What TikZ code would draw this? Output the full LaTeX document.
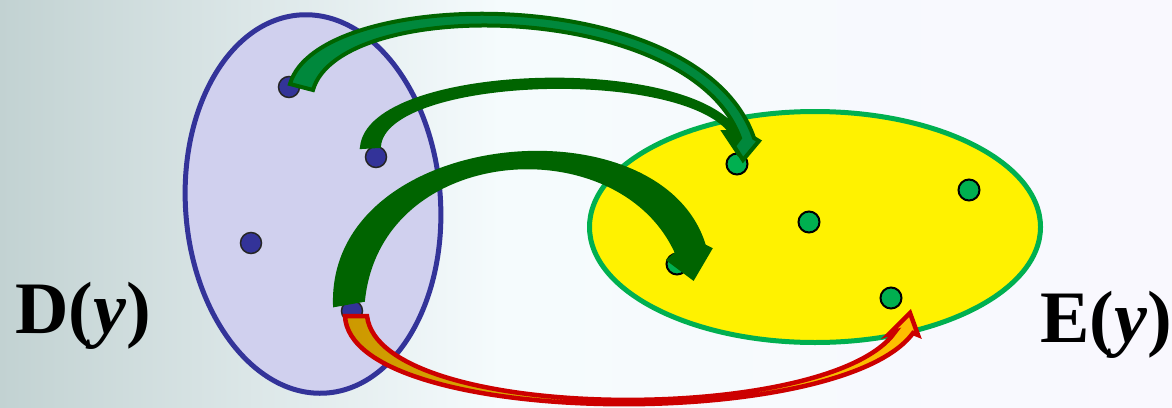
\documentclass[tikz,border=0pt]{standalone}
\usepackage{fontspec}
\setmainfont{Liberation Serif}
\usetikzlibrary{shapes.geometric}

\definecolor{bgleft}{HTML}{C2D2D2}
\definecolor{bgmid}{HTML}{F5FBFD}
\definecolor{bgright}{HTML}{F9F8FE}
\definecolor{setblue}{HTML}{333399}
\definecolor{setlilac}{HTML}{D0D0EE}
\definecolor{setgreen}{HTML}{00B050}
\definecolor{arrowgreen}{HTML}{00883C}
\definecolor{arrowdark}{HTML}{006400}
\definecolor{redline}{HTML}{CC0000}
\definecolor{goldleft}{HTML}{CC9900}
\definecolor{goldright}{HTML}{FFC000}

\begin{document}
\begin{tikzpicture}[
    x=1pt, y=-1pt,
    bdot/.style={circle,draw=black!85,fill=setblue,line width=1.5pt,minimum size=21pt,inner sep=0pt},
    gdot/.style={circle,draw=black,fill=setgreen,line width=2pt,minimum size=21pt,inner sep=0pt},
    bigarrow/.style={draw=arrowdark,fill=arrowgreen,line width=4pt,line join=miter},
    setname/.style={font=\fontsize{74}{78}\selectfont\bfseries,inner sep=0pt,anchor=base west}
]
    % background
    \useasboundingbox (0,0) rectangle (1172,407);
    \shade[left color=bgleft,right color=bgmid] (0,0) rectangle (500,407);
    \shade[left color=bgmid,right color=bgright] (500,0) rectangle (1172,407);

    % the two sets
    \node[ellipse,draw=setblue,fill=setlilac,line width=5pt,
          minimum width=255pt,minimum height=379pt,rotate=4] (D) at (313,204) {};
    \node[ellipse,draw=setgreen,fill=yellow,line width=5pt,
          minimum width=451pt,minimum height=231pt] (E) at (815,227) {};

    \node[bdot] (d1) at (289,87) {};
    \node[bdot] (d2) at (376,157) {};
    \node[bdot] (d3) at (251,243) {};
    \node[bdot] (d4) at (352,311) {};

    \node[gdot] (e1) at (737,164) {};
    \node[gdot] (e2) at (809,222) {};
    \node[gdot] (e3) at (969,190) {};
    \node[gdot] (e4) at (677,264) {};
    \node[gdot] (e5) at (891,298) {};

    % curved block arrows
    \draw[bigarrow,fill=arrowdark]
        (362,147) .. controls (370,65) and (690,55) .. (738,133)
        -- (746,137) -- (738,153) -- (724,132) -- (731,132)
        .. controls (680,65) and (385,75) .. (379,146) -- cycle;
    \draw[bigarrow]
        (290,84) .. controls (318,-15) and (700,-20) .. (754,138)
        -- (759,141) -- (743,160) -- (734,146) -- (740,138)
        .. controls (690,0) and (340,-5) .. (313,90) -- cycle;
    \draw[bigarrow,fill=arrowdark]
        (335,305) .. controls (330,130) and (660,100) .. (704,246)
        -- (710,249) -- (693,278) -- (669,260) -- (677,253)
        .. controls (620,125) and (380,140) .. (363,300) -- cycle;
    \draw[draw=redline,line width=4.5pt,line join=miter,left color=goldleft,right color=goldright]
        (345,316) .. controls (350,428) and (840,433) .. (913,333)
        -- (918,335) -- (910,313) -- (889,334) -- (895,332)
        .. controls (830,426) and (380,424) .. (367,316) -- cycle;

    \node[setname] (Dname) at (15,333) {D(\textit{y})};
    \node[setname] (Ename) at (1040,342) {E(\textit{y})};
\end{tikzpicture}
\end{document}
